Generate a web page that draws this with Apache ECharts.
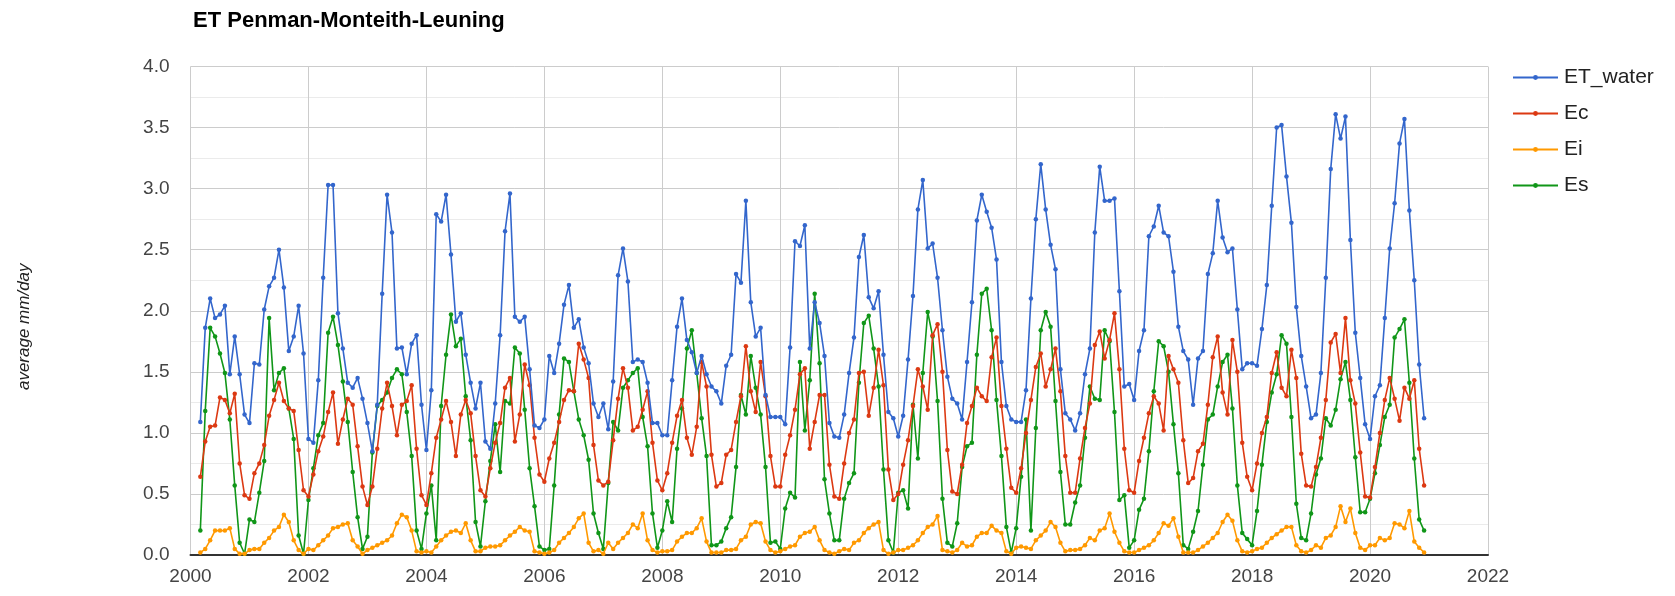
<!DOCTYPE html>
<html>
<head>
<meta charset="utf-8">
<title>ET Penman-Monteith-Leuning</title>
<script src="https://cdn.jsdelivr.net/npm/echarts@6/dist/echarts.min.js"></script>
<style>
  html, body { margin: 0; padding: 0; background: #ffffff; }
  #chart { width: 1675px; height: 596px; }
</style>
</head>
<body>
<div id="chart"></div>
<script>
// Monthly mean evapotranspiration components (mm/day), March 2000 – December 2020
const startYear = 2000;
const startMonth = 3; // first record: March 2000

const etWater = [
  1.09, 1.86, 2.10, 1.94, 1.97, 2.04, 1.48, 1.79, 1.48, 1.15,
  1.08, 1.57, 1.56, 2.01, 2.20, 2.27, 2.50, 2.19, 1.67, 1.79,
  2.04, 1.65, 0.95, 0.92, 1.43, 2.27, 3.03, 3.03, 1.98, 1.69,
  1.41, 1.37, 1.45, 1.28, 1.08, 0.85, 1.23, 2.14, 2.95, 2.64,
  1.69, 1.70, 1.48, 1.73, 1.80, 1.23, 0.86, 1.35, 2.79, 2.73,
  2.95, 2.46, 1.91, 1.98, 1.64, 1.41, 1.20, 1.41, 0.93, 0.87,
  1.24, 1.80, 2.65, 2.96, 1.95, 1.91, 1.95, 1.52, 1.06, 1.04,
  1.11, 1.63, 1.49, 1.73, 2.05, 2.21, 1.86, 1.93, 1.70, 1.57,
  1.24, 1.13, 1.24, 1.03, 1.42, 2.29, 2.51, 2.24, 1.58, 1.60,
  1.58, 1.41, 1.08, 1.08, 0.98, 0.98, 1.43, 1.87, 2.10, 1.76,
  1.66, 1.49, 1.63, 1.48, 1.38, 1.34, 1.24, 1.55, 1.64, 2.30,
  2.23, 2.90, 2.07, 1.79, 1.86, 1.31, 1.13, 1.13, 1.13, 1.07,
  1.70, 2.57, 2.53, 2.70, 1.69, 2.07, 1.90, 1.63, 1.08, 0.97,
  0.96, 1.15, 1.49, 1.78, 2.44, 2.62, 2.11, 2.02, 2.16, 1.64,
  1.17, 1.12, 0.97, 1.14, 1.60, 2.12, 2.83, 3.07, 2.51, 2.55,
  2.27, 1.84, 1.46, 1.28, 1.24, 1.11, 1.58, 2.07, 2.74, 2.95,
  2.81, 2.68, 2.42, 1.58, 1.22, 1.11, 1.09, 1.09, 1.35, 2.10,
  2.75, 3.20, 2.83, 2.54, 2.34, 1.52, 1.16, 1.11, 1.02, 1.16,
  1.48, 1.69, 2.64, 3.18, 2.90, 2.90, 2.92, 2.16, 1.38, 1.40,
  1.27, 1.67, 1.84, 2.61, 2.69, 2.86, 2.64, 2.61, 2.32, 1.87,
  1.67, 1.60, 1.23, 1.61, 1.67, 2.30, 2.47, 2.90, 2.60, 2.48,
  2.51, 2.01, 1.52, 1.57, 1.57, 1.55, 1.85, 2.21, 2.86, 3.50,
  3.52, 3.10, 2.72, 2.03, 1.63, 1.38, 1.12, 1.15, 1.49, 2.27,
  3.16, 3.61, 3.41, 3.59, 2.58, 1.82, 1.45, 1.07, 0.95, 1.30,
  1.39, 1.94, 2.51, 2.88, 3.37, 3.57, 2.82, 2.25, 1.56, 1.12
];

const ec = [
  0.64, 0.93, 1.05, 1.06, 1.29, 1.27, 1.16, 1.32, 0.75, 0.49,
  0.46, 0.67, 0.75, 0.90, 1.14, 1.27, 1.41, 1.26, 1.20, 1.18,
  0.86, 0.53, 0.48, 0.66, 0.85, 0.97, 1.17, 1.33, 0.91, 1.11,
  1.28, 1.23, 0.89, 0.56, 0.41, 0.56, 0.87, 1.20, 1.41, 1.22,
  0.98, 1.23, 1.26, 1.39, 0.87, 0.49, 0.41, 0.67, 0.96, 1.11,
  1.26, 1.09, 0.81, 1.15, 1.27, 1.16, 0.81, 0.53, 0.48, 0.71,
  0.92, 1.08, 1.37, 1.45, 0.93, 1.15, 1.56, 1.39, 0.96, 0.66,
  0.60, 0.79, 0.92, 1.09, 1.27, 1.35, 1.34, 1.73, 1.60, 1.45,
  0.90, 0.61, 0.57, 0.60, 0.94, 1.28, 1.53, 1.37, 1.02, 1.05,
  1.19, 1.34, 0.92, 0.61, 0.53, 0.67, 0.92, 1.14, 1.27, 0.96,
  0.82, 1.05, 1.58, 1.38, 0.82, 0.56, 0.59, 0.82, 0.86, 1.09,
  1.30, 1.71, 1.34, 1.17, 1.58, 1.30, 0.81, 0.56, 0.56, 0.82,
  0.98, 1.19, 1.48, 1.53, 0.87, 1.09, 1.31, 1.31, 0.74, 0.48,
  0.46, 0.75, 1.00, 1.11, 1.49, 1.50, 1.14, 1.37, 1.68, 1.39,
  0.70, 0.45, 0.50, 0.74, 0.94, 1.22, 1.52, 1.38, 1.19, 1.80,
  1.89, 1.50, 0.86, 0.52, 0.50, 0.74, 1.08, 1.22, 1.37, 1.30,
  1.26, 1.62, 1.78, 1.22, 0.87, 0.55, 0.51, 0.71, 1.00, 1.27,
  1.54, 1.65, 1.38, 1.52, 1.69, 1.34, 0.81, 0.51, 0.51, 0.79,
  1.04, 1.24, 1.72, 1.83, 1.61, 1.76, 1.98, 1.52, 0.87, 0.53,
  0.51, 0.77, 0.96, 1.16, 1.30, 1.24, 1.02, 1.63, 1.52, 1.41,
  0.94, 0.59, 0.63, 0.85, 0.91, 1.23, 1.62, 1.79, 1.33, 1.15,
  1.76, 1.50, 0.92, 0.64, 0.53, 0.75, 1.00, 1.13, 1.49, 1.66,
  1.37, 1.30, 1.68, 1.45, 0.83, 0.57, 0.56, 0.72, 0.96, 1.27,
  1.74, 1.81, 1.49, 1.94, 1.43, 1.24, 0.84, 0.48, 0.47, 0.72,
  1.00, 1.27, 1.45, 1.28, 1.10, 1.37, 1.28, 1.43, 0.87, 0.57
];

const ei = [
  0.02, 0.05, 0.12, 0.20, 0.20, 0.20, 0.22, 0.05, 0.01, 0.01,
  0.04, 0.05, 0.05, 0.10, 0.14, 0.20, 0.23, 0.33, 0.27, 0.12,
  0.04, 0.01, 0.05, 0.04, 0.08, 0.12, 0.16, 0.22, 0.23, 0.25,
  0.26, 0.12, 0.07, 0.01, 0.04, 0.06, 0.08, 0.10, 0.12, 0.16,
  0.26, 0.33, 0.31, 0.20, 0.03, 0.02, 0.03, 0.02, 0.07, 0.12,
  0.16, 0.19, 0.20, 0.18, 0.26, 0.12, 0.03, 0.03, 0.06, 0.07,
  0.07, 0.08, 0.12, 0.16, 0.19, 0.23, 0.20, 0.19, 0.03, 0.02,
  0.01, 0.02, 0.04, 0.10, 0.14, 0.18, 0.23, 0.30, 0.34, 0.10,
  0.03, 0.04, 0.01, 0.10, 0.05, 0.10, 0.14, 0.18, 0.25, 0.22,
  0.34, 0.12, 0.04, 0.02, 0.03, 0.03, 0.04, 0.11, 0.15, 0.18,
  0.18, 0.22, 0.30, 0.11, 0.02, 0.02, 0.02, 0.04, 0.04, 0.05,
  0.12, 0.15, 0.25, 0.27, 0.26, 0.11, 0.04, 0.02, 0.03, 0.05,
  0.07, 0.08, 0.15, 0.18, 0.19, 0.23, 0.12, 0.04, 0.02, 0.01,
  0.03, 0.05, 0.04, 0.10, 0.12, 0.18, 0.22, 0.25, 0.27, 0.04,
  0.01, 0.02, 0.04, 0.04, 0.06, 0.08, 0.12, 0.18, 0.23, 0.25,
  0.32, 0.04, 0.03, 0.02, 0.04, 0.10, 0.07, 0.08, 0.15, 0.18,
  0.18, 0.24, 0.20, 0.18, 0.03, 0.01, 0.06, 0.07, 0.06, 0.05,
  0.12, 0.16, 0.20, 0.27, 0.23, 0.10, 0.03, 0.04, 0.04, 0.05,
  0.08, 0.14, 0.12, 0.20, 0.22, 0.34, 0.19, 0.10, 0.03, 0.02,
  0.02, 0.04, 0.06, 0.08, 0.12, 0.18, 0.26, 0.24, 0.30, 0.15,
  0.02, 0.02, 0.02, 0.04, 0.07, 0.10, 0.14, 0.18, 0.27, 0.33,
  0.28, 0.12, 0.03, 0.02, 0.03, 0.05, 0.06, 0.10, 0.14, 0.17,
  0.20, 0.23, 0.23, 0.08, 0.03, 0.02, 0.04, 0.08, 0.06, 0.14,
  0.16, 0.23, 0.40, 0.27, 0.38, 0.18, 0.06, 0.04, 0.08, 0.08,
  0.14, 0.12, 0.14, 0.26, 0.25, 0.22, 0.36, 0.11, 0.06, 0.02
];

const es = [
  0.20, 1.18, 1.86, 1.79, 1.65, 1.49, 1.11, 0.57, 0.10, 0.01,
  0.29, 0.27, 0.51, 0.77, 1.94, 1.35, 1.49, 1.53, 1.20, 0.95,
  0.16, 0.01, 0.45, 0.71, 0.98, 1.08, 1.82, 1.95, 1.72, 1.42,
  1.09, 0.68, 0.31, 0.05, 0.15, 0.84, 1.22, 1.27, 1.33, 1.45,
  1.52, 1.48, 1.17, 0.81, 0.20, 0.05, 0.34, 0.57, 0.12, 1.22,
  1.64, 1.97, 1.71, 1.77, 1.30, 0.94, 0.27, 0.07, 0.44, 0.77,
  1.07, 0.68, 1.26, 1.24, 1.70, 1.65, 1.19, 0.71, 0.40, 0.07,
  0.04, 0.05, 0.57, 1.15, 1.61, 1.58, 1.34, 1.11, 0.98, 0.78,
  0.34, 0.18, 0.05, 0.59, 1.09, 1.02, 1.37, 1.43, 1.49, 1.53,
  1.13, 0.89, 0.34, 0.06, 0.20, 0.44, 0.27, 0.87, 1.20, 1.69,
  1.84, 1.49, 1.12, 0.81, 0.08, 0.08, 0.11, 0.22, 0.31, 0.72,
  1.31, 1.15, 1.63, 1.37, 1.15, 0.72, 0.10, 0.11, 0.05, 0.38,
  0.51, 0.47, 1.58, 1.02, 1.43, 2.14, 1.57, 0.62, 0.34, 0.12,
  0.12, 0.46, 0.59, 0.67, 1.41, 1.90, 1.96, 1.69, 1.38, 0.70,
  0.12, 0.02, 0.51, 0.53, 0.38, 1.23, 0.79, 1.49, 1.99, 1.79,
  1.26, 0.46, 0.10, 0.07, 0.26, 0.72, 0.89, 0.92, 1.64, 2.14,
  2.18, 1.84, 1.27, 0.81, 0.23, 0.02, 0.22, 0.64, 1.11, 0.20,
  1.04, 1.84, 1.99, 1.87, 1.26, 0.68, 0.25, 0.25, 0.43, 0.57,
  0.96, 1.38, 1.28, 1.27, 1.84, 1.75, 1.17, 0.45, 0.49, 0.06,
  0.12, 0.37, 0.46, 0.85, 1.34, 1.75, 1.71, 1.50, 1.07, 0.67,
  0.08, 0.05, 0.19, 0.36, 0.74, 1.11, 1.15, 1.38, 1.58, 1.64,
  1.20, 0.57, 0.18, 0.13, 0.08, 0.36, 0.74, 1.09, 1.33, 1.48,
  1.80, 1.73, 1.13, 0.42, 0.14, 0.12, 0.34, 0.66, 0.79, 1.12,
  1.06, 1.19, 1.44, 1.58, 1.27, 0.80, 0.35, 0.35, 0.46, 0.67,
  0.90, 1.13, 1.23, 1.78, 1.85, 1.93, 1.41, 0.79, 0.29, 0.20
];

const seriesNames = ['ET_water', 'Ec', 'Ei', 'Es'];
const seriesColors = ['#3366cc', '#dc3912', '#ff9900', '#109618'];
const yearTicks = [2000, 2002, 2004, 2006, 2008, 2010, 2012, 2014, 2016, 2018, 2020, 2022];

// time position of each monthly record as a fractional year
const monthPos = etWater.map((_, i) => startYear + (startMonth - 1 + i) / 12);

function pairs(values) {
  return values.map((v, i) => [monthPos[i], v]);
}

const chart = echarts.init(document.getElementById('chart'), null, { renderer: 'canvas' });

const fontFamily = 'Arial, "Liberation Sans", sans-serif';

chart.setOption({
  animation: false,
  backgroundColor: '#ffffff',
  color: seriesColors,
  textStyle: { fontFamily: fontFamily },
  title: {
    text: 'ET Penman-Monteith-Leuning',
    left: 188,
    top: 5,
    textStyle: { fontSize: 22, fontWeight: 'bold', color: '#000000', fontFamily: fontFamily }
  },
  legend: {
    orient: 'vertical',
    left: 1507,
    top: 62,
    itemWidth: 45,
    itemHeight: 6,
    itemGap: 15,
    textStyle: { fontSize: 21, color: '#222222', fontFamily: fontFamily, padding: [0, 0, 0, 1] },
    data: seriesNames
  },
  grid: {
    left: 190.5,
    right: 187,
    top: 66.5,
    bottom: 41,
    containLabel: false
  },
  xAxis: {
    type: 'value',
    min: yearTicks[0],
    max: yearTicks[yearTicks.length - 1],
    interval: 2,
    axisLine: { show: true, onZero: false, lineStyle: { color: '#333333', width: 2 } },
    axisTick: { show: false },
    axisLabel: {
      color: '#444444',
      fontSize: 19,
      margin: 12,
      formatter: v => String(v)
    },
    splitLine: { show: true, lineStyle: { color: '#cccccc', width: 1 } }
  },
  yAxis: {
    type: 'value',
    min: 0,
    max: 4,
    interval: 0.5,
    name: 'average mm/day',
    nameLocation: 'middle',
    nameGap: 158,
    nameTextStyle: {
      fontSize: 17,
      fontStyle: 'italic',
      color: '#222222',
      fontFamily: fontFamily,
      padding: [0, 32, 0, 0]
    },
    axisLine: { show: false },
    axisTick: { show: false },
    axisLabel: {
      color: '#444444',
      fontSize: 19,
      margin: 21,
      formatter: v => v.toFixed(1)
    },
    splitLine: { show: true, lineStyle: { color: '#cccccc', width: 1 } },
    minorTick: { show: false, splitNumber: 2 },
    minorSplitLine: { show: true, lineStyle: { color: '#ebebeb', width: 1 } }
  },
  series: [etWater, ec, ei, es].map((vals, k) => ({
    name: seriesNames[k],
    type: 'line',
    data: pairs(vals),
    symbol: 'circle',
    symbolSize: 4.5,
    showAllSymbol: true,
    lineStyle: { width: 1.6, color: seriesColors[k] },
    itemStyle: { color: seriesColors[k] },
    emphasis: { disabled: true },
    z: 10 - k
  }))
});
</script>
</body>
</html>
